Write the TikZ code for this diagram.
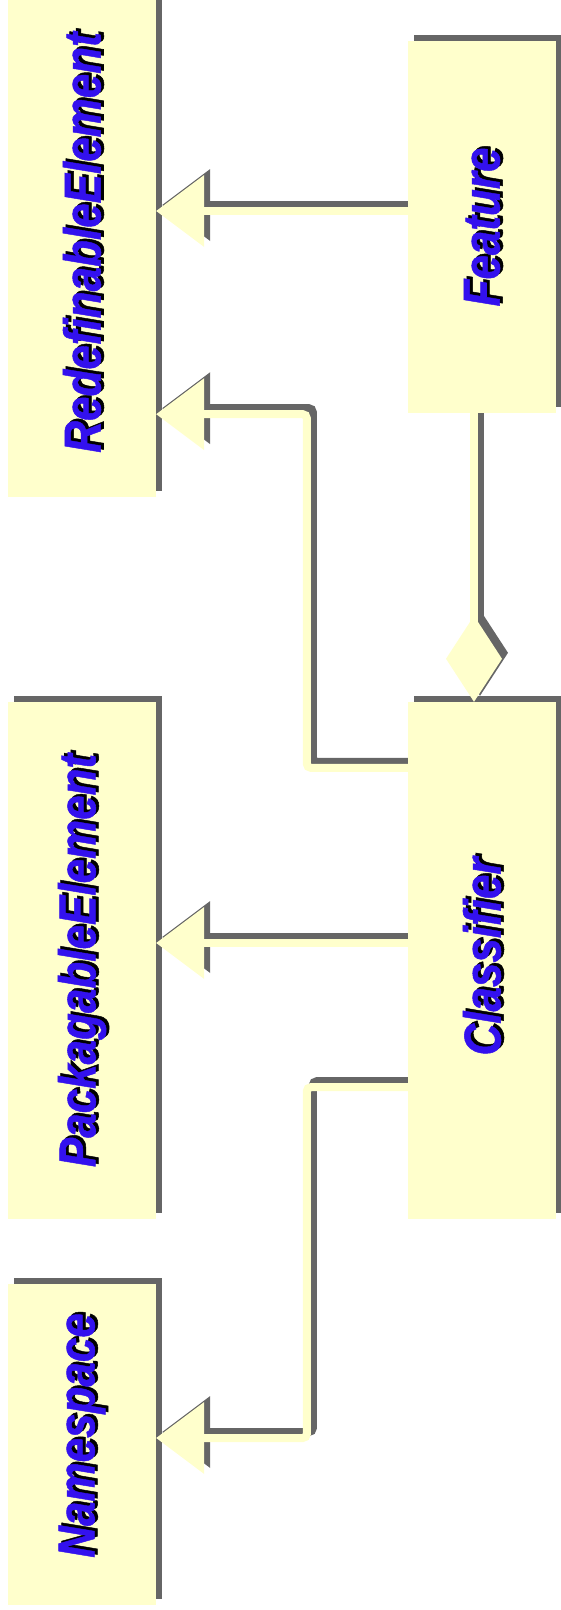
\documentclass[tikz,border=0pt]{standalone}
\usepackage{fontspec}
\setmainfont{Liberation Sans}
\newfontfamily\umlfont{Liberation Sans}[BoldItalicFeatures={FakeBold=1}]
\usetikzlibrary{calc,arrows.meta}

\definecolor{umlfill}{HTML}{FFFFCC}
\definecolor{umlshade}{HTML}{666666}
\definecolor{umltext}{HTML}{3311EE}

\pgfdeclarelayer{shadow}
\pgfsetlayers{shadow,main}

% class name: blue bold italic with a black offset copy behind it;
% the optional argument pads the start of the name, moving it along the box
\newcommand{\classname}[2][0pt]{%
  \rotatebox{90}{\scalebox{1}[1.18]{\fontsize{44}{50}\umlfont\bfseries\itshape
    \hspace*{#1}%
    \makebox[0pt][l]{\hspace*{2.5pt}\raisebox{-2.5pt}[0pt][0pt]{\color{black}#2}}%
    \textcolor{umltext}{#2}}}}

% every connector is drawn twice: grey copy offset up-right, yellow on top
\newcommand{\twindraw}[2]{%
  \begin{pgfonlayer}{shadow}
    \draw[#1, color=umlshade, transform canvas={shift={(6pt,6pt)}}] #2;
  \end{pgfonlayer}
  \draw[#1, color=umlfill] #2;}

\tikzset{
  umlclass/.style={fill=umlfill, inner sep=0pt, minimum width=148pt},
  link/.style={line width=8pt, rounded corners=4pt},
  general/.style={link, -{Triangle[length=48pt, width=72pt, line width=0pt]}},
  aggreg/.style={link, -{Diamond[length=86pt, width=56pt, line width=0pt]}}
}

\begin{document}
\begin{tikzpicture}[x=1pt, y=-1pt]
\useasboundingbox (0,0) rectangle (561,1610);

% classes
\node[umlclass, minimum height=509pt] (red)  at (82,242.5)  {\classname{RedefinableElement}};
\node[umlclass, minimum height=372pt] (feat) at (482,227)   {\classname{Feature}};
\node[umlclass, minimum height=517pt] (pkg)  at (82,960.5)  {\classname{PackagableElement}};
\node[umlclass, minimum height=517pt] (cls)  at (482,960.5) {\classname[8pt]{Classifier}};
\node[umlclass, minimum height=321pt] (ns)   at (82,1444.5) {\classname[18pt]{Namespace}};

% box shadows
\begin{pgfonlayer}{shadow}
  \foreach \n in {red,feat,pkg,cls,ns}
    \fill[umlshade] ($(\n.south west)+(6,-6)$) rectangle ($(\n.north east)+(6,-6)$);
\end{pgfonlayer}

% connector end points
\coordinate (f1) at ([yshift=16pt]feat.west);
\coordinate (c1) at ([yshift=-66pt]cls.north west);
\coordinate (r2) at ([yshift=83pt]red.south east);
\coordinate (c2) at ([yshift=17.5pt]cls.west);
\coordinate (c3) at ([yshift=132pt]cls.south west);
\coordinate (n1) at ([yshift=6.5pt]ns.east);

% generalizations
\twindraw{general}{(f1) -- (f1 -| red.east)}
\twindraw{general}{(c1) -- ++(-101,0) |- (r2)}
\twindraw{general}{(c2) -- (c2 -| pkg.east)}
\twindraw{general}{(c3) -- ++(-101,0) |- (n1)}

% aggregation
\twindraw{aggreg}{([xshift=-8pt]feat.south) -- ([xshift=-8pt]cls.north)}
\end{tikzpicture}
\end{document}
